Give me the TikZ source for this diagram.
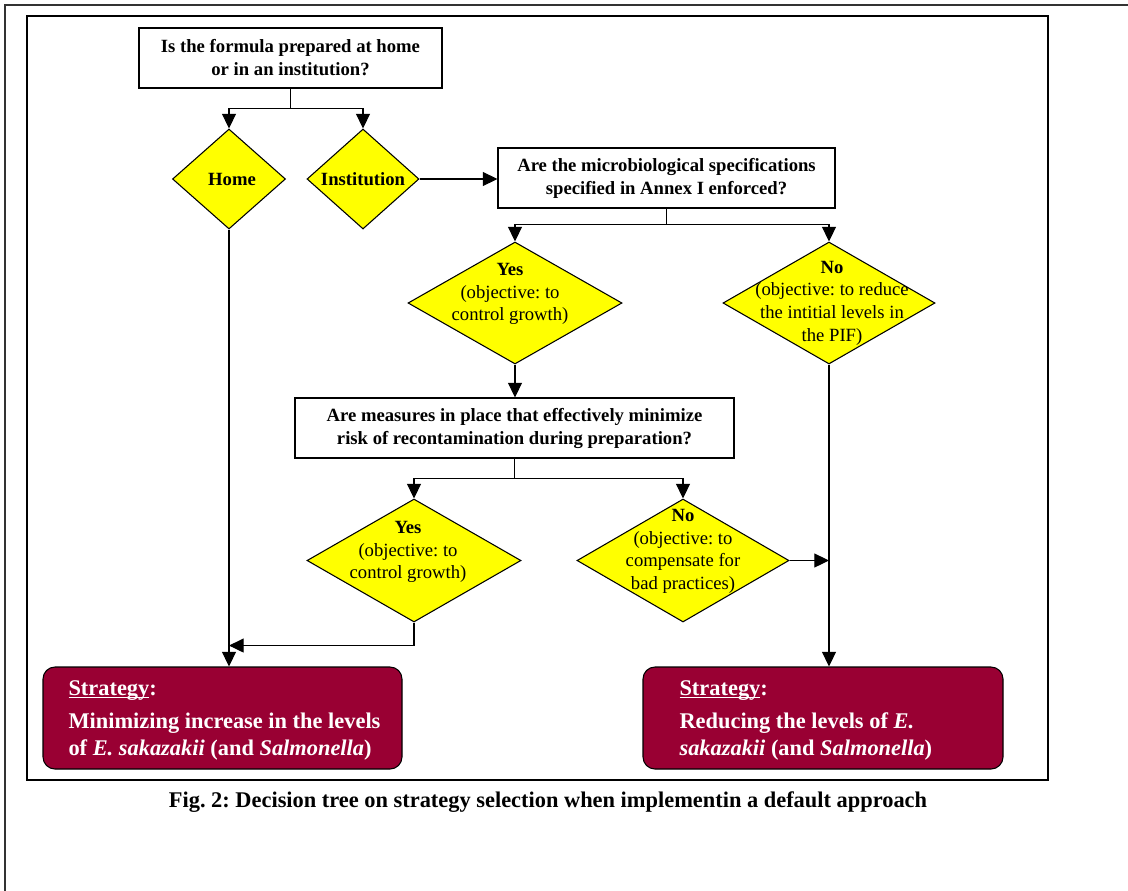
\documentclass[tikz,border=0pt]{standalone}
\usepackage{fontspec}
\setmainfont{Liberation Serif}
\usetikzlibrary{shapes.geometric,arrows.meta}
\definecolor{stratred}{RGB}{153,0,51}
\definecolor{dyel}{RGB}{255,255,0}
\newcommand\myul[1]{\setbox0\hbox{#1}\rlap{\rule[-2.4pt]{\wd0}{1pt}}\box0}
\frenchspacing
\begin{document}
\begin{tikzpicture}[x=0.75pt,y=-0.75pt,line width=0.8pt,
  qbox/.style={draw,fill=white,minimum height=45pt,inner sep=0pt,align=center,
    font=\bfseries\fontsize{14}{17.25}\selectfont},
  dia/.style={diamond,draw,fill=dyel,inner sep=0pt},
  dtext/.style={align=center,inner sep=0pt,font=\fontsize{14}{17}\selectfont},
  stratbox/.style={draw,fill=stratred,rounded corners=9pt,minimum height=76.5pt,inner sep=0pt},
  stext/.style={text=white,align=left,anchor=west,inner sep=0pt,
    font=\bfseries\fontsize{16.8}{20.25}\selectfont},
  arr/.style={-{Triangle[length=11pt,width=10.5pt]}}]
\useasboundingbox (0,0) rectangle (1128,890);
\fill[white] (0,0) rectangle (1128,890);
% frames
\draw[line width=0.8pt,black!80] (5,895) -- (5,5) -- (1135,5);
\draw[line width=1pt] (27,16) rectangle (1048,780);
% nodes
\node[qbox,minimum width=227.25pt] (q1) at (290.5,58) {Is the formula prepared at home\\or in an institution?};
\node[dia,minimum width=84.75pt,minimum height=75pt] (home) at (229,179) {};
\node[dtext,font=\bfseries\fontsize{14}{17}\selectfont] (homet) at (232,179) {Home};
\node[dia,minimum width=84pt,minimum height=75pt] (inst) at (363,179) {};
\node[dtext,font=\bfseries\fontsize{14}{17}\selectfont] (instt) at (363,179) {Institution};
\node[qbox,minimum width=252.75pt] (q2) at (666.5,178) {Are the microbiological specifications\\specified in Annex I enforced?};
\node[dia,minimum width=160.5pt,minimum height=91.5pt] (yes1) at (515,303) {};
\node[dtext] (yes1t) at (510,294) {\textbf{Yes}\\(objective: to\\control growth)};
\node[dia,minimum width=159pt,minimum height=91.5pt] (no1) at (829,303) {};
\node[dtext] (no1t) at (832,303) {\textbf{No}\\(objective: to reduce\\the intitial levels in\\the PIF)};
\node[qbox,minimum width=329.25pt] (q3) at (514.5,428) {Are measures in place that effectively minimize\\risk of recontamination during preparation?};
\node[dia,minimum width=160.5pt,minimum height=92.25pt] (yes2) at (414,560.5) {};
\node[dtext] (yes2t) at (408,552) {\textbf{Yes}\\(objective: to\\control growth)};
\node[dia,minimum width=159pt,minimum height=92.25pt] (no2) at (683,560.5) {};
\node[dtext] (no2t) at (683,551.5) {\textbf{No}\\(objective: to\\compensate for\\bad practices)};
\node[stratbox,minimum width=269.25pt] (s1) at (222.5,718) {};
\node[stext] (s1t) at (68,720) {\myul{Strategy}:\\[4.5pt]Minimizing increase in the levels\\of \textit{E. sakazakii} (and \textit{Salmonella})};
\node[stratbox,minimum width=270pt] (s2) at (823,718) {};
\node[stext] (s2t) at (679,720) {\myul{Strategy}:\\[4.5pt]Reducing the levels of \textit{E.}\\\textit{sakazakii} (and \textit{Salmonella})};
\node[inner sep=0pt,font=\bfseries\fontsize{16.8}{20}\selectfont] (cap) at (548,802) {Fig. 2: Decision tree on strategy selection when implementin a default approach};
% connectors
\draw (q1.south) -- ++(0,20) coordinate (j1);
\draw[arr] (j1) -| (home.north);
\draw[arr] (j1) -| (inst.north);
\draw[arr] (inst.east) -- (inst.east -| q2.west);
\draw (q2.south) -- ++(0,16) coordinate (j2);
\draw[arr] (j2) -| (yes1.north);
\draw[arr] (j2) -| (no1.north);
\draw[arr] (yes1.south) -- (yes1.south |- q3.north);
\draw (q3.south) -- ++(0,20) coordinate (j3);
\draw[arr] (j3) -| (yes2.north);
\draw[arr] (j3) -| (no2.north);
\draw[arr] (home.south) -- (home.south |- s1.north);
\draw (yes2.south) -- ++(0,23) coordinate (j4);
\draw[arr] (j4) -- (j4 -| home.south);
\draw[arr] (no1.south) -- (no1.south |- s2.north);
\draw[arr] (no2.east) -- (no2.east -| no1.south);
\end{tikzpicture}
\end{document}
